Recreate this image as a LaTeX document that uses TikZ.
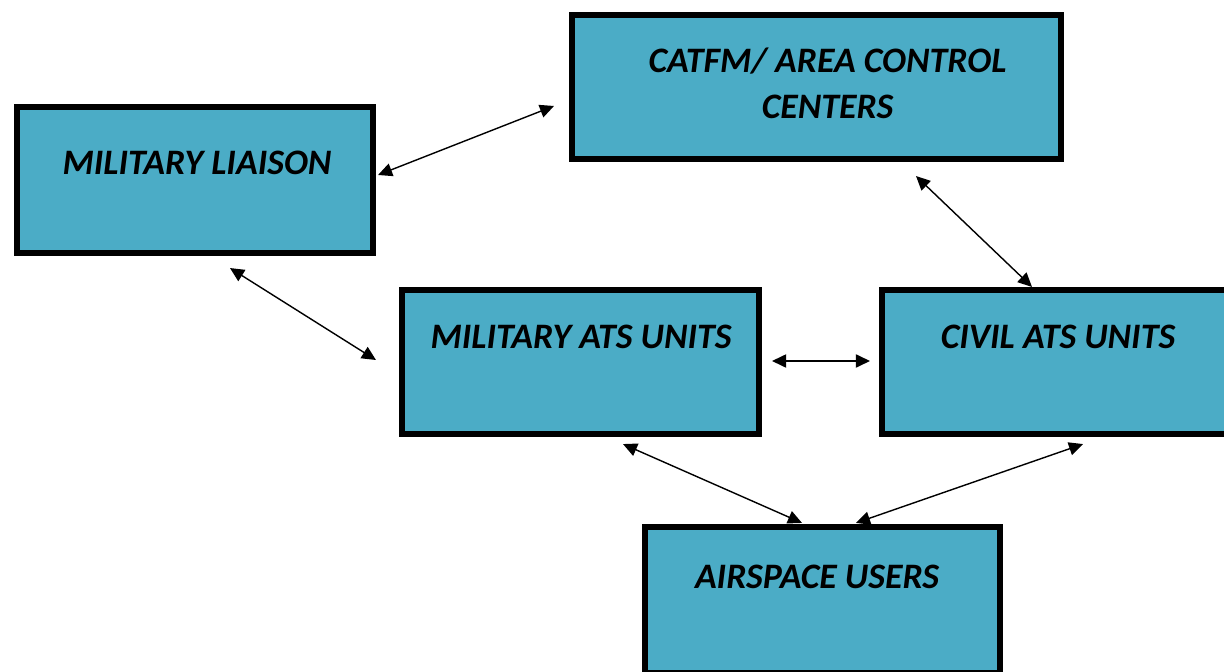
\documentclass[tikz,border=0pt]{standalone}
\usepackage{fontspec}
\setmainfont{Carlito}
\usetikzlibrary{arrows.meta,calc}

\definecolor{boxblue}{RGB}{75,172,198}

\tikzset{
	unitbox/.style={shape=rectangle, draw=black, fill=boxblue, line width=3.5pt},
	unittext/.style={font=\fontsize{20.4}{26.5}\selectfont\bfseries\itshape, align=center, inner sep=0pt},
	link/.style={{Triangle[length=8pt,width=7.5pt]}-{Triangle[length=8pt,width=7.5pt]}, line width=0.8pt}
}

\begin{document}
\begin{tikzpicture}[x=0.02cm, y=-0.02cm]
			\useasboundingbox (0,0) rectangle (1224,672);
			\node[unitbox, minimum width=9.78cm, minimum height=2.88cm] (catfm) at (816.5,87) {};
			\node[unitbox, minimum width=7.12cm, minimum height=2.92cm] (liaison) at (195,180) {};
			\node[unitbox, minimum width=7.14cm, minimum height=2.88cm] (mats) at (580.5,362) {};
			\node[unitbox, minimum width=7.14cm, minimum height=2.88cm] (cats) at (1060.5,362) {};
			\node[unitbox, minimum width=7.10cm, minimum height=2.92cm] (users) at (822.5,600) {};
			
			\node[unittext] (catfmtext) at (827.5,83.5) {CATFM/ AREA CONTROL\\CENTERS};
			\node[unittext] (liaisontext) at (197,163) {MILITARY LIAISON};
			\node[unittext] (matstext) at (581,337) {MILITARY ATS UNITS};
			\node[unittext] (catstext) at (1058,337) {CIVIL ATS UNITS};
			\node[unittext] (userstext) at (817,577) {AIRSPACE USERS};
			
			\path [link] ($(liaison.east)+(2,-5)$) edge ($(catfm.west)+(-15,19)$);
			\path [link] ($(catfm.south)+(99.5,14)$) edge ($(cats.north)+(-28.5,0)$);
			\path [link] ($(liaison.south)+(35,12)$) edge ($(mats.west)+(-23,-2)$);
			\path [link] ($(mats.east)+(10,-1)$) edge ($(cats.west)+(-9,-1)$);
			\path [link] ($(mats.south)+(42.5,7)$) edge ($(users.north)+(-20.5,-1)$);
			\path [link] ($(cats.south)+(22.5,7)$) edge ($(users.north)+(33.5,-1)$);
		\end{tikzpicture}
\end{document}
